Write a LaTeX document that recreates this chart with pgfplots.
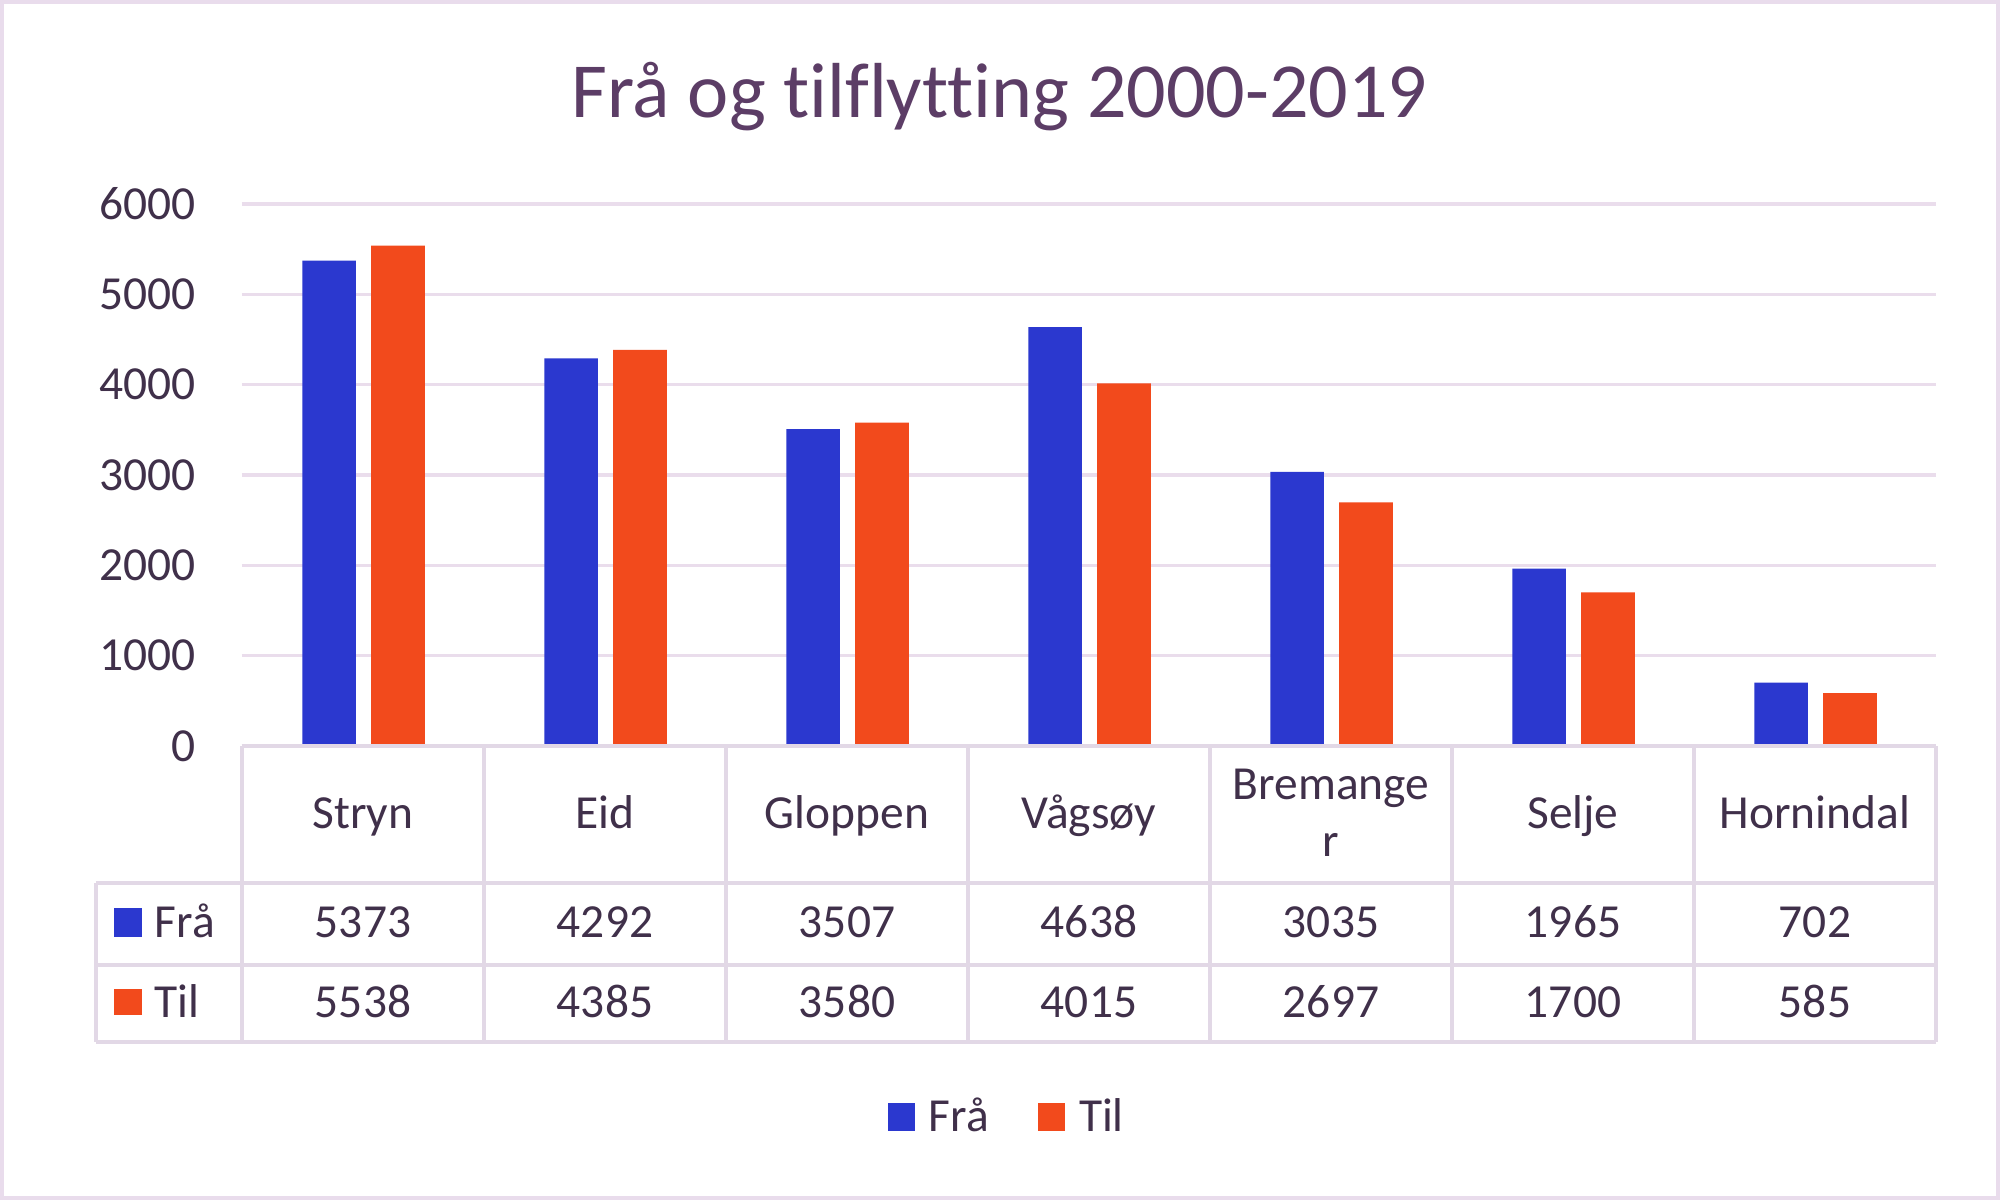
\documentclass[border=0pt]{standalone}
\usepackage{pgfplots}
\pgfplotsset{compat=1.18}
\usepackage{pgfplotstable}
\usepackage{fontspec}
\setmainfont{Carlito}[Ligatures=NoCommon]

\definecolor{fra}{HTML}{2B38CF}
\definecolor{til}{HTML}{F24A1C}
\definecolor{txt}{HTML}{40304A}
\definecolor{ttl}{HTML}{5C3D66}
\definecolor{gridc}{HTML}{EADDEC}
\definecolor{tabc}{HTML}{E2D8E6}
\definecolor{framec}{HTML}{E9DCEC}

\newcommand\lbl{\fontsize{13.5}{16.2}\selectfont}

% fraflytting / tilflytting per kommune
\pgfplotstableread{
x fra til
0 5373 5538
1 4292 4385
2 3507 3580
3 4638 4015
4 3035 2697
5 1965 1700
6 702 585
}\flytting

\begin{document}
\begin{tikzpicture}[x=1cm,y=1cm]
\path[use as bounding box] (-2.42,-4.54) rectangle (17.58,7.46);
\fill[white] (-2.42,-4.54) rectangle (17.58,7.46);
\draw[framec, line width=0.04cm] (-2.40,-4.52) rectangle (17.56,7.44);

\begin{axis}[
    at={(0,0)}, anchor=south west,
    scale only axis, width=16.94cm, height=5.42cm,
    xmin=-0.5, xmax=6.5, ymin=0, ymax=6000,
    clip=false,
    axis line style={draw=none},
    major tick length=0pt,
    ytick={0,1000,...,6000},
    ymajorgrids, grid style={gridc, line width=0.9pt},
    xtick={0,...,6},
    xticklabels={{\strut Stryn},{\strut Eid},{\strut Gloppen},{\strut Vågsøy},
                 {\strut Bremange\\\strut r},{\strut Selje},{\strut Hornindal}},
    xticklabel style={anchor=center, align=center, inner sep=0pt, yshift=-0.71cm,
                      font=\lbl, text=txt},
    yticklabel style={anchor=east, inner sep=0pt, xshift=-0.46cm, font=\lbl, text=txt},
    /pgf/number format/assume math mode=true,
    /pgf/number format/1000 sep={},
    legend columns=2,
    legend style={at={(0.453,-0.685)}, anchor=center, draw=none, fill=none,
                  font=\lbl, text=txt,
                  /tikz/every odd column/.append style={column sep=0.07cm},
                  /tikz/every even column/.append style={column sep=0.42cm}},
    legend image code/.code={\fill (0cm,-0.14cm) rectangle (0.27cm,0.14cm);},
]
\addplot[ybar, bar width=0.222, bar shift=-0.14, fill=fra, draw=none]
    table[x=x, y=fra] {\flytting};
\addlegendentry{Frå}
\addplot[ybar, bar width=0.222, bar shift=0.145, fill=til, draw=none]
    table[x=x, y=til] {\flytting};
\addlegendentry{Til}

% tal i datatabellen under grafen
\addplot[forget plot, only marks, mark=none, nodes near coords,
    point meta=explicit symbolic,
    every node near coord/.append style={anchor=base, inner sep=0pt, font=\lbl, text=txt}]
    table[x=x, y expr=-2115, meta=fra] {\flytting};
\addplot[forget plot, only marks, mark=none, nodes near coords,
    point meta=explicit symbolic,
    every node near coord/.append style={anchor=base, inner sep=0pt, font=\lbl, text=txt}]
    table[x=x, y expr=-3000, meta=til] {\flytting};
\end{axis}

% rutenett for tabellen
\begin{scope}[tabc, line width=1.1pt]
\draw (0,0) -- (16.94,0);
\draw (-1.46,-1.37) -- (16.94,-1.37);
\draw (-1.46,-2.19) -- (16.94,-2.19);
\draw (-1.46,-2.96) -- (16.94,-2.96);
\draw (-1.46,-1.37) -- (-1.46,-2.96);
\foreach \i in {0,...,7} \draw (2.42*\i,0) -- (2.42*\i,-2.96);
\end{scope}

\fill[fra] (-1.28,-1.91) rectangle (-1.00,-1.62);
\node[anchor=base west, inner sep=0pt, font=\lbl, text=txt] at (-0.88,-1.91) {Frå};
\fill[til] (-1.28,-2.69) rectangle (-1.00,-2.43);
\node[anchor=base west, inner sep=0pt, font=\lbl, text=txt] at (-0.88,-2.71) {Til};

\node[anchor=base, inner sep=0pt, font=\fontsize{22.2}{26}\selectfont, text=ttl]
    at (7.575,6.29) {Frå og tilflytting 2000-2019};
\end{tikzpicture}
\end{document}
